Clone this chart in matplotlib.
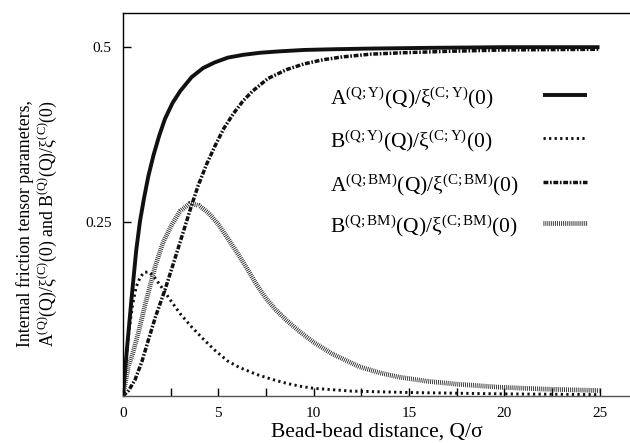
import matplotlib
matplotlib.use("Agg")
import matplotlib.pyplot as plt
from matplotlib.ticker import MultipleLocator, FixedLocator, NullFormatter
from matplotlib.lines import Line2D

plt.rcParams['font.family'] = ['Liberation Serif', 'DejaVu Serif']
plt.rcParams['mathtext.fontset'] = 'custom'
plt.rcParams['mathtext.rm'] = 'Liberation Serif'
plt.rcParams['mathtext.it'] = 'Liberation Serif:italic'
plt.rcParams['lines.scale_dashes'] = False

# ---- data ----
q_ay = [0, 0.2, 0.45, 0.7, 0.89, 1.1, 1.33, 1.6, 1.9, 2.2, 2.6, 3.0, 3.6, 4.2, 4.8, 5.5, 6.3,
        7.2, 8.2, 9.5, 11, 13, 16, 20, 25]
a_y = [0, 0.065, 0.14, 0.21, 0.25, 0.283, 0.315, 0.345, 0.373, 0.397, 0.42, 0.437, 0.457, 0.47,
       0.478, 0.485, 0.489, 0.492, 0.494, 0.496, 0.497, 0.498, 0.499, 0.5, 0.5]

q_by = [0, 0.15, 0.3, 0.5, 0.7, 0.9, 1.1, 1.33, 1.6, 2.0, 2.5, 3.0, 3.6, 4.2, 4.8, 5.5, 6.1,
        7.0, 7.8, 8.6, 9.3, 10, 11, 12, 13.5, 15, 17.5, 20, 22.5, 25]
b_y = [0, 0.05, 0.09, 0.13, 0.157, 0.17, 0.177, 0.178, 0.172, 0.157, 0.137, 0.118, 0.099,
       0.082, 0.066, 0.05, 0.041, 0.031, 0.024, 0.018, 0.014, 0.011, 0.009, 0.007, 0.006,
       0.005, 0.004, 0.003, 0.0025, 0.002]

q_abm = [0, 0.3, 0.63, 1.0, 1.33, 1.7, 2.2, 2.6, 3.07, 3.56, 3.95, 4.4, 4.82, 5.3, 5.8, 6.3,
         6.8, 7.6, 8.6, 9.5, 10.5, 11.5, 13, 14.7, 17, 20, 25]
a_bm = [0, 0.008, 0.023, 0.05, 0.08, 0.113, 0.152, 0.186, 0.227, 0.27, 0.302, 0.333, 0.358,
        0.384, 0.405, 0.423, 0.437, 0.455, 0.468, 0.476, 0.482, 0.486, 0.49, 0.492, 0.494,
        0.496, 0.497]

q_bbm = [0, 0.28, 0.5, 0.8, 1.2, 1.68, 2.1, 2.55, 3.0, 3.5, 4.0, 4.5, 5.0, 5.5, 6.0, 6.5, 7.0,
         7.5, 8.0, 8.6, 9.28, 10, 11, 12.4, 13.5, 14.5, 16, 17.5, 19.8, 22, 25]
b_bm = [0, 0.042, 0.06, 0.09, 0.135, 0.185, 0.22, 0.245, 0.265, 0.276, 0.273, 0.262, 0.246,
        0.226, 0.205, 0.183, 0.16, 0.14, 0.124, 0.108, 0.092, 0.077, 0.06, 0.042, 0.033,
        0.027, 0.021, 0.017, 0.0125, 0.01, 0.0078]

labels = [r'$\mathrm{A}^{(\mathrm{Q;Y})}(\mathrm{Q})/\mathrm{\xi}^{(\mathrm{C;Y})}(0)$',
          r'$\mathrm{B}^{(\mathrm{Q;Y})}(\mathrm{Q})/\mathrm{\xi}^{(\mathrm{C;Y})}(0)$',
          r'$\mathrm{A}^{(\mathrm{Q;BM})}(\mathrm{Q})/\mathrm{\xi}^{(\mathrm{C;BM})}(0)$',
          r'$\mathrm{B}^{(\mathrm{Q;BM})}(\mathrm{Q})/\mathrm{\xi}^{(\mathrm{C;BM})}(0)$']
x_ticks = [0, 5, 10, 15, 20, 25]
y_ticks = [0.25, 0.5]

fig = plt.figure(figsize=(6.30, 4.43), dpi=100)
ax = fig.add_axes([0.1952, 0.1061, 0.8048, 0.8646])

styles = [
    dict(color='#111111', lw=2.8, linestyle='-'),
    dict(color='#111111', lw=2.1, linestyle=(0, (1.6, 2.4))),
    dict(color='#111111', lw=2.5, linestyle=(0, (3.5, 1.2, 1.2, 1.2))),
    dict(color='#222222', lw=3.4, linestyle=(0, (0.6, 0.8))),
]
series = [(q_ay, a_y), (q_by, b_y), (q_abm, a_bm), (q_bbm, b_bm)]
for (qq, vv), st in zip(series, styles):
    ax.plot(qq, vv, solid_capstyle='butt', dash_capstyle='butt', **st)

ax.set_xlim(0, 26.6)
ax.set_ylim(0, 0.549)

ax.xaxis.set_major_locator(FixedLocator(x_ticks))
ax.xaxis.set_minor_locator(MultipleLocator(2.5))
ax.xaxis.set_minor_formatter(NullFormatter())
ax.yaxis.set_major_locator(FixedLocator(y_ticks))
ax.set_yticklabels(['0.25', '0.5'])
ax.tick_params(axis='both', which='both', direction='in', length=6, width=1,
               labelsize=11, top=False, right=False)
ax.tick_params(axis='x', pad=8)
ax.tick_params(axis='y', pad=8)

for s in ['left', 'top', 'bottom']:
    ax.spines[s].set_linewidth(1.0)
ax.spines['right'].set_visible(False)
ax.spines['bottom'].set_color('#555555')

ax.set_xlabel('Bead-bead distance, Q/σ', fontsize=15.5, labelpad=2)
ax.set_ylabel('Internal friction tensor parameters,\n'
              r'$\mathrm{A}^{(\mathrm{Q})}(\mathrm{Q})/\mathrm{\xi}^{(\mathrm{C})}(0)$ and '
              r'$\mathrm{B}^{(\mathrm{Q})}(\mathrm{Q})/\mathrm{\xi}^{(\mathrm{C})}(0)$',
              fontsize=12.8, linespacing=1.1)
ax.yaxis.set_label_coords(-0.126, 0.45)

# manual legend: text left-aligned, line sample on the right
leg_y = [0.786, 0.674, 0.559, 0.452]
for lab, st, yy in zip(labels, styles, leg_y):
    ax.add_line(Line2D([0.828, 0.915], [yy, yy], transform=ax.transAxes,
                       solid_capstyle='butt', dash_capstyle='butt', **st))
    ax.text(0.408, yy - 0.024, lab, transform=ax.transAxes, fontsize=15.5,
            ha='left', va='baseline')

fig.savefig('out.png', dpi=100)
